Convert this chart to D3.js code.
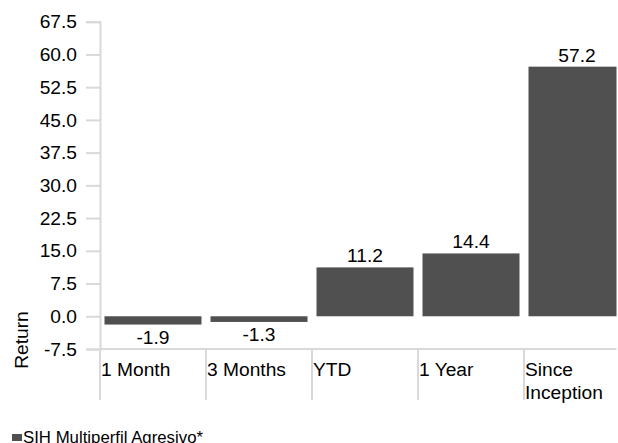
<!DOCTYPE html>
<html>
<head>
<meta charset="utf-8">
<script src="https://cdn.jsdelivr.net/npm/d3@7"></script>
<style>
  html, body { margin: 0; padding: 0; background: #fff; }
  svg { display: block; }
  text { font-family: "Liberation Sans", Arial, sans-serif; fill: #000; }
</style>
</head>
<body>
<svg id="chart" width="618" height="443"></svg>
<script>
// Data
const categories = ["1 Month", "3 Months", "YTD", "1 Year", "Since Inception"];
const returns = [-1.9, -1.3, 11.2, 14.4, 57.2];
const yTicks = [-7.5, 0, 7.5, 15, 22.5, 30, 37.5, 45, 52.5, 60, 67.5];
const seriesName = "SIH Multiperfil Agresivo*";
const yTitle = "Return";

const W = 618, H = 443;
const plotLeft = 100, plotRight = 630, plotTop = 21.7, plotBottom = 349;
const barColor = "#505050";
const axisColor = "#d9d9d9";
const fontSize = "19.2px";
const legendFontSize = "16.8px";

// one decimal, plain hyphen for negatives
const fmt = v => d3.format(".1f")(v).replace("\u2212", "-");

const svg = d3.select("#chart");

const xCat = d3.scaleBand().domain(categories).range([plotLeft, plotRight]).padding(0);
const xBar = d3.scaleBand().domain(categories).range([plotLeft, plotRight])
  .paddingInner(0.085).paddingOuter(0.0425);
const y = d3.scaleLinear().domain([-7.5, 67.5]).range([plotBottom, plotTop]);

svg.append("defs").append("clipPath").attr("id", "plotClip")
  .append("rect").attr("x", 0).attr("y", 0).attr("width", 616.5).attr("height", H);

// Y axis
const yAxis = svg.append("g")
  .attr("transform", `translate(${plotLeft},0)`)
  .call(d3.axisLeft(y).tickValues(yTicks).tickFormat(fmt).tickSize(14).tickPadding(9));
yAxis.select(".domain").attr("stroke", axisColor).attr("stroke-width", 2);
yAxis.selectAll(".tick line").attr("stroke", axisColor).attr("stroke-width", 2);
yAxis.selectAll(".tick text")
  .style("font-family", "'Liberation Sans', Arial, sans-serif")
  .style("font-size", fontSize).attr("fill", "#000");

// Y axis title
svg.append("text")
  .attr("transform", `translate(28,340) rotate(-90)`)
  .attr("text-anchor", "middle")
  .style("font-size", fontSize)
  .text(yTitle);

const plot = svg.append("g").attr("clip-path", "url(#plotClip)");

// Category axis line and separators
plot.append("line")
  .attr("x1", plotLeft).attr("x2", plotRight)
  .attr("y1", y(-7.5)).attr("y2", y(-7.5))
  .attr("stroke", axisColor).attr("stroke-width", 2);
plot.selectAll("line.sep")
  .data(categories)
  .join("line")
  .attr("class", "sep")
  .attr("x1", d => xCat(d)).attr("x2", d => xCat(d))
  .attr("y1", y(-7.5)).attr("y2", 400)
  .attr("stroke", axisColor).attr("stroke-width", 2);

const rows = categories.map((c, i) => ({ c, v: returns[i] }));

// Bars
plot.selectAll("rect.bar")
  .data(rows)
  .join("rect")
  .attr("class", "bar")
  .attr("x", d => xBar(d.c))
  .attr("width", xBar.bandwidth())
  .attr("y", d => y(Math.max(0, d.v)))
  .attr("height", d => Math.abs(y(d.v) - y(0)))
  .attr("fill", barColor);

// Value labels
svg.selectAll("text.val")
  .data(rows)
  .join("text")
  .attr("class", "val")
  .attr("x", d => xBar(d.c) + xBar.bandwidth() / 2)
  .attr("y", d => d.v >= 0 ? y(d.v) - 5 : y(d.v) + 19)
  .attr("text-anchor", "middle")
  .style("font-size", fontSize)
  .text(d => fmt(d.v));

// Category labels (wrapped)
const catLabels = svg.selectAll("text.cat")
  .data(categories)
  .join("text")
  .attr("class", "cat")
  .attr("y", 376)
  .style("font-size", fontSize);
catLabels.each(function(d) {
  const words = d === "Since Inception" ? ["Since", "Inception"] : [d];
  const t = d3.select(this);
  words.forEach((w, i) => {
    t.append("tspan").attr("x", xCat(d) + 1).attr("dy", i === 0 ? 0 : 23).text(w);
  });
});

// Legend
svg.append("rect").attr("x", 12).attr("y", 434).attr("width", 10).attr("height", 7).attr("fill", barColor);
svg.append("text").attr("x", 23).attr("y", 443).style("font-size", legendFontSize).text(seriesName);
</script>
</body>
</html>
